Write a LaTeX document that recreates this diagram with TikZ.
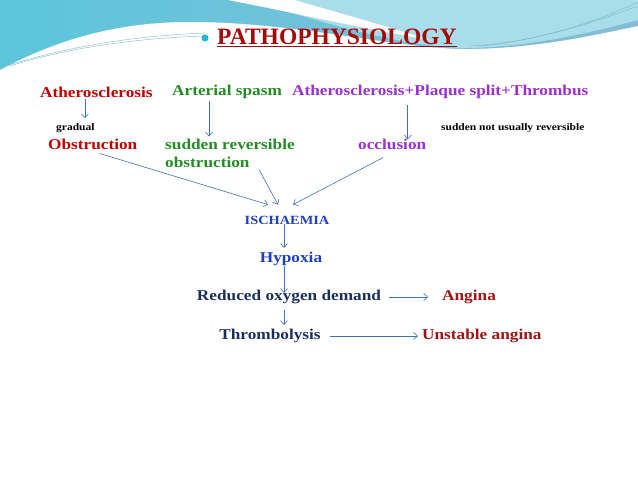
\documentclass[tikz,border=0pt]{standalone}
\usepackage{fontspec}
\setmainfont[FakeStretch=1.15]{Liberation Serif}
\newfontfamily\titlefont{Liberation Serif}
\usepackage{tikz}
\usetikzlibrary{arrows.meta,positioning}
\definecolor{bgblueA}{HTML}{5CC6DC}
\definecolor{bgblueB}{HTML}{86BCD5}
\definecolor{bgcyan}{HTML}{A9DDE9}
\definecolor{swline}{HTML}{7FB8C8}
\definecolor{bulcyan}{HTML}{1FB8D6}
\definecolor{titlered}{HTML}{A50A0A}
\definecolor{causered}{HTML}{C00000}
\definecolor{causegreen}{HTML}{238C23}
\definecolor{causepurple}{HTML}{9B30D0}
\definecolor{chainblue}{HTML}{1F3FBF}
\definecolor{chainnavy}{HTML}{1B2F5E}
\definecolor{resultred}{HTML}{9E1414}
\definecolor{arrowblue}{HTML}{3F72AE}
\tikzset{
  cause/.style={
    inner sep = 2pt,
    font = \bfseries\fontsize{15}{18}\selectfont
  },
  note/.style={
    inner sep = 2pt,
    font = \bfseries\fontsize{10}{12}\selectfont
  },
  flow/.style={
    draw = arrowblue,
    line width = 0.6pt,
    -{Straight Barb[length=4pt,width=7pt]}
  },
  bullet/.style={
    circle,
    fill = bulcyan,
    inner sep = 0pt,
    minimum size = 7pt
  }
}

\begin{document}
\begin{tikzpicture}[x=1pt,y=-1pt]
    \useasboundingbox (0,0) rectangle (638,479);
    % background
    \fill[left color=bgblueA, right color=bgblueB] (0,0) rectangle (638,80);
    \fill[bgcyan] (250,0) .. controls (340,28) and (410,48) .. (471,48) .. controls (540,46) and (600,30) .. (638,20) -- (638,0) -- cycle;
    \fill[white] (228,0) .. controls (290,12) and (350,26) .. (430,40) .. controls (360,18) and (310,5) .. (295,0) -- cycle;
    \fill[white] (0,70) .. controls (60,38) and (120,22) .. (190,22) .. controls (300,22) and (400,50) .. (471,49) .. controls (540,48) and (600,34) .. (638,26) -- (638,479) -- (0,479) -- cycle;
    \draw[swline, line width=0.4pt] (0,68) .. controls (60,48) and (130,36) .. (205,33);
    \draw[swline, line width=0.4pt] (10,66) .. controls (70,47) and (140,38) .. (205,36);
    \draw[swline, line width=0.4pt] (470,46) .. controls (540,42) and (600,20) .. (638,6);
    \draw[swline, line width=0.4pt] (480,46) .. controls (545,40) and (605,18) .. (638,2);
    % title
    \node[bullet] (bul) at (205,38) {};
    \node[anchor=base west, inner sep=0pt, text=titlered, font=\titlefont\bfseries\fontsize{23.5}{26}\selectfont] (ttl) at (217,45) {\underline{PATHOPHYSIOLOGY}};
    % causes
    \node[cause, text=causered, anchor=west] (ath) at (38,92) {Atherosclerosis};
    \node[cause, text=causegreen, anchor=west] (spasm) at (170,92) {Arterial spasm};
    \node[cause, text=causepurple, anchor=west] (plaque) at (290,92) {Atherosclerosis+Plaque split+Thrombus};
    \node[note, anchor=west] (grad) at (54,128) {gradual};
    \node[note, anchor=west] (snur) at (439,128) {sudden not usually reversible};
    \node[cause, text=causered, anchor=west] (obs) at (46,144) {Obstruction};
    \node[cause, text=causegreen, anchor=west, align=left] (susrev) at (163,153) {sudden reversible\\obstruction};
    \node[cause, text=causepurple, anchor=west] (occl) at (356,144) {occlusion};
    % chain
    \node[cause, text=chainblue, font=\bfseries\fontsize{12.5}{14}\selectfont] (isch) at (287,220) {ISCHAEMIA};
    \node[cause, text=chainblue] (hyp) at (291,259) {Hypoxia};
    \node[cause, text=chainnavy] (rod) at (289,297) {Reduced oxygen demand};
    \node[cause, text=chainnavy] (thr) at (270,336) {Thrombolysis};
    \node[cause, text=resultred, anchor=west] (ang) at (440,297) {Angina};
    \node[cause, text=resultred, anchor=west] (unst) at (420,336) {Unstable angina};
    % arrows
    \draw[flow] ([xshift=-11.5pt]ath.south) -- ([xshift=-11.5pt, yshift=3pt]ath.south |- grad.north);
    \draw[flow] ([xshift=-18pt]spasm.south) -- ([xshift=-18pt]spasm.south |- susrev.north);
    \draw[flow] ([xshift=-32.5pt, yshift=-4pt]plaque.south) -- ([xshift=-32.5pt, yshift=-3pt]plaque.south |- occl.north);
    \draw[flow] ([xshift=7pt, yshift=-2pt]obs.south) -- ([xshift=-19pt, yshift=9pt]isch.north);
    \draw[flow] ([xshift=29pt]susrev.south) -- ([xshift=-9pt, yshift=9pt]isch.north);
    \draw[flow] ([xshift=-9pt, yshift=-6pt]occl.south) -- ([xshift=6pt, yshift=9pt]isch.north);
    \draw[flow] ([xshift=-3pt, yshift=2pt]isch.south) -- ([xshift=-3pt, yshift=2pt]isch.south |- hyp.north);
    \draw[flow] ([xshift=-7pt, yshift=2pt]hyp.south) -- ([xshift=-7pt, yshift=-5pt]hyp.south |- rod.north);
    \draw[flow] ([xshift=-5pt, yshift=-4pt]rod.south) -- ([xshift=-5pt, yshift=2pt]rod.south |- thr.north);
    \draw[flow] ([xshift=6pt]rod.east) -- ([xshift=-12pt]ang.west);
    \draw[flow] ([xshift=7pt]thr.east) -- ([xshift=-2pt]unst.west);
\end{tikzpicture}
\end{document}
